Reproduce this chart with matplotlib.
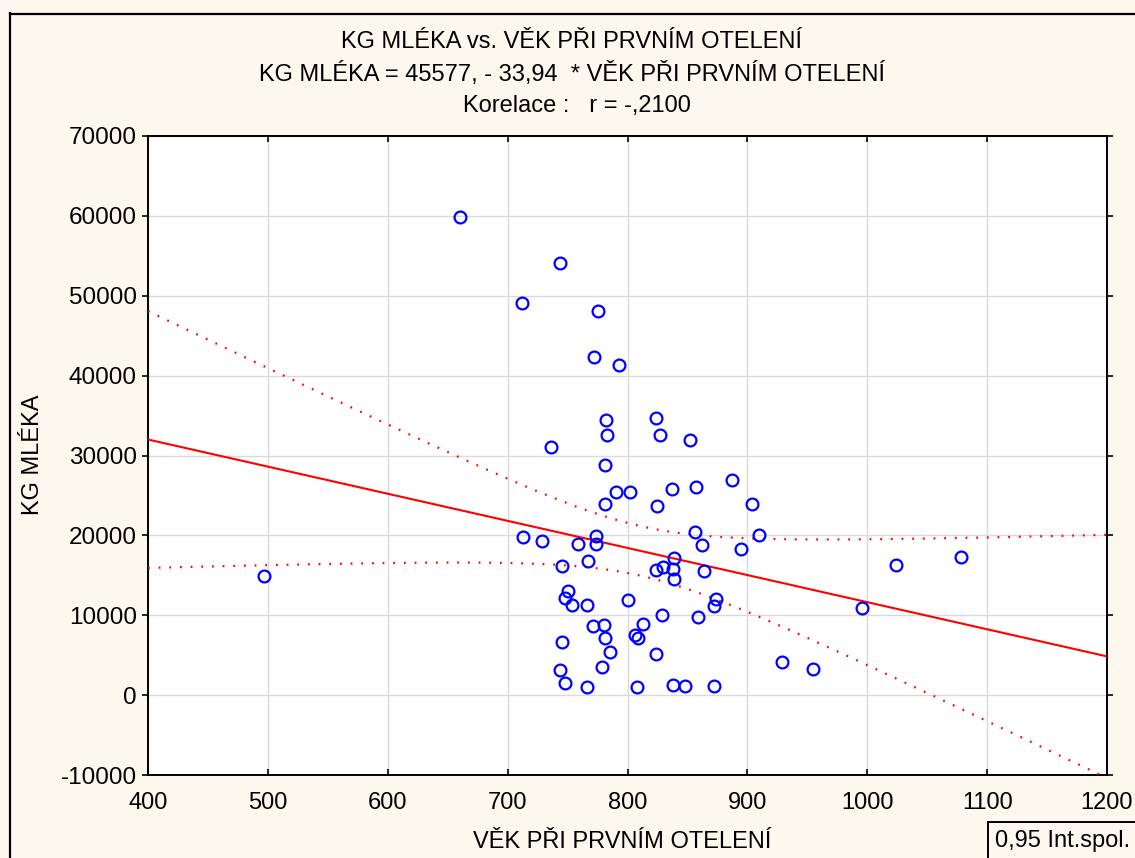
import numpy as np
import matplotlib
matplotlib.use("Agg")
import matplotlib.pyplot as plt
from matplotlib.lines import Line2D
from matplotlib.patches import Rectangle

plt.rcParams['font.family'] = ['Liberation Sans', 'DejaVu Sans']
plt.rcParams['axes.unicode_minus'] = False

# věk při prvním otelení (dny) a nádoj (kg)
vek = [497, 660, 712, 744, 775, 772, 793, 782, 824, 783,
       827, 852, 736, 781, 887, 790, 802, 837, 857, 904,
       781, 825, 856, 910, 713, 729, 759, 774, 774, 862,
       895, 839, 767, 745, 824, 830, 838, 839, 864, 750,
       748, 754, 766, 800, 874, 872, 829, 859, 771, 780,
       813, 781, 806, 809, 745, 785, 824, 779, 744, 748,
       766, 808, 838, 848, 872, 1024, 1078, 996, 929, 955]
mleko = [14900, 59850, 49070, 54090, 48040, 42320, 41280, 34470, 34640, 32590,
         32590, 31960, 31050, 28760, 26960, 25380, 25450, 25830, 26080, 23870,
         23870, 23620, 20370, 19990, 19820, 19240, 18940, 19870, 18870, 18820,
         18320, 17190, 16780, 16150, 15610, 15990, 15810, 14560, 15520, 13060,
         12180, 11230, 11310, 11930, 12020, 11180, 10060, 9720, 8640, 8800,
         8890, 7100, 7510, 7100, 6590, 5420, 5130, 3500, 3170, 1460,
         1040, 1040, 1290, 1130, 1170, 16240, 17320, 10890, 4090, 3210]

a, b = 45577.0, -33.94
r = -0.2100
xticks = [400, 500, 600, 700, 800, 900, 1000, 1100, 1200]
yticks = [-10000, 0, 10000, 20000, 30000, 40000, 50000, 60000, 70000]

bg = '#FDF8EE'
fig = plt.figure(figsize=(11.35, 8.58), dpi=100, facecolor=bg)
ax = fig.add_axes([148/1135, 1-775/858, 959/1135, 639/858])
ax.set_facecolor('white')

x = np.array(vek, float)
y = np.array(mleko, float)
n = len(x)

# regresní přímka a 95% pás spolehlivosti
xs = np.linspace(400, 1200, 300)
ys = a + b*xs
res = y - (a + b*x)
s = np.sqrt(np.sum(res**2)/(n-2))
sxx = np.sum((x - x.mean())**2)
t = 1.995
hw = t*s*np.sqrt(1.0/n + (xs - x.mean())**2/sxx)

ax.plot(xs, ys, color='red', lw=1.5, zorder=3)
ax.plot(xs, ys + hw, color='red', lw=1.6, ls=(0, (0.8, 4)), zorder=3)
ax.plot(xs, ys - hw, color='red', lw=1.6, ls=(0, (0.8, 4)), zorder=3)
ax.plot(x, y, 'o', mfc='none', mec='blue', mew=1.6, ms=8.5, zorder=4)

ax.set_xlim(400, 1200)
ax.set_ylim(-10000, 70000)
ax.set_xticks(xticks)
ax.set_yticks(yticks)
ax.grid(True, color='#DADADA', lw=1)
ax.set_axisbelow(True)
for sp in ax.spines.values():
    sp.set_linewidth(1.4)
ax.tick_params(axis='x', direction='in', top=True, length=4, width=1.2,
               labelsize=17, pad=12)
ax.tick_params(axis='y', direction='out', right=True, length=4, width=1.2,
               labelsize=17.5, pad=4)

ax.set_xlabel('VĚK PŘI PRVNÍM OTELENÍ', fontsize=17, va='center')
ax.xaxis.set_label_coords((622 - 148)/959, (775 - 842)/639)
ax.set_ylabel('KG MLÉKA', fontsize=17, va='center')
ax.yaxis.set_label_coords((33 - 148)/959, (775 - 455)/639)

fig.text(572/1135, 1-42/858, 'KG MLÉKA vs. VĚK PŘI PRVNÍM OTELENÍ',
         ha='center', va='center', fontsize=17)
fig.text(572/1135, 1-74/858,
         'KG MLÉKA = 45577, - 33,94  * VĚK PŘI PRVNÍM OTELENÍ',
         ha='center', va='center', fontsize=17)
fig.text(577/1135, 1-106/858, 'Korelace :   r = -,2100',
         ha='center', va='center', fontsize=17)

# rámeček grafu
fig.add_artist(Line2D([9.5/1135, 9.5/1135], [1-13/858, 0.0],
                      transform=fig.transFigure, color='black', lw=1.6))
fig.add_artist(Line2D([9.5/1135, 1.0], [1-13.5/858, 1-13.5/858],
                      transform=fig.transFigure, color='black', lw=1.6))

# legenda
fig.add_artist(Rectangle((988/1135, -0.05), 160/1135, 0.05 + 1-822/858,
                         transform=fig.transFigure, fc=bg, ec='black', lw=1.4))
fig.text(995/1135, 1-841/858, '0,95 Int.spol.', ha='left', va='center',
         fontsize=17)

fig.savefig('out.png', dpi=100, facecolor=bg)
